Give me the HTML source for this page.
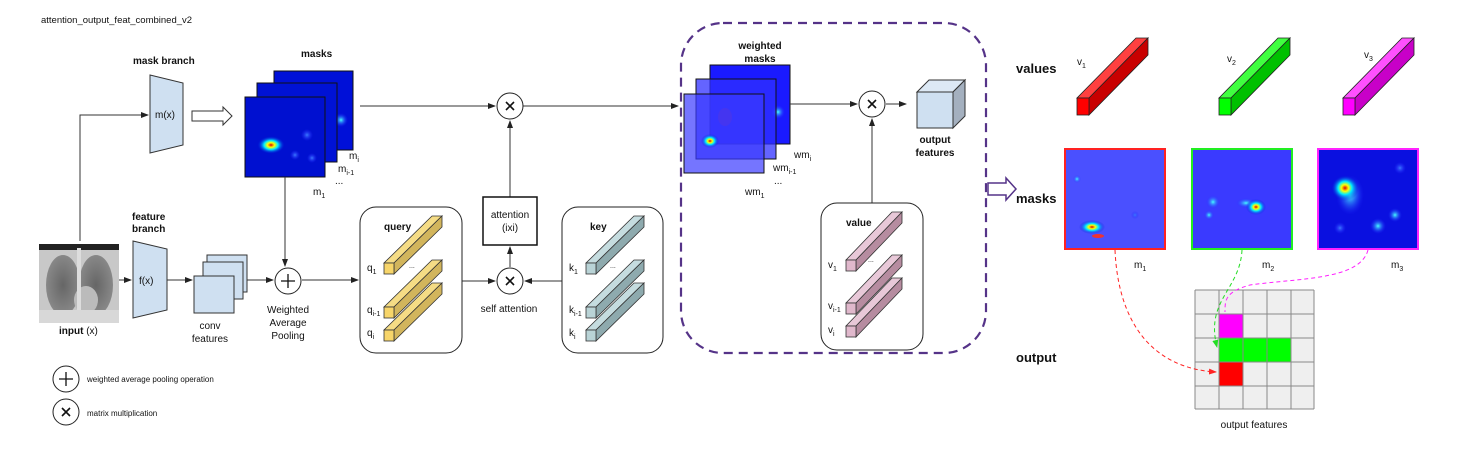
<!DOCTYPE html>
<html><head><meta charset="utf-8"><style>
html,body{margin:0;padding:0;background:#fff;}
svg{display:block;font-family:"Liberation Sans",Arial,sans-serif;}
.t{font-size:10px;fill:#111;}
.b{font-size:10px;font-weight:bold;fill:#111;}
.big{font-size:13px;font-weight:bold;fill:#111;}
.s{font-size:7px;fill:#111;}
.x{stroke:#111;stroke-width:1.6;fill:none;}
</style></head><body>
<svg width="1459" height="450" viewBox="0 0 1459 450">
<defs>
<marker id="ar" markerWidth="8" markerHeight="8" refX="7" refY="4" orient="auto" markerUnits="userSpaceOnUse"><path d="M0,1 L8,4 L0,7 z" fill="#222"/></marker>
<marker id="arR" markerWidth="8" markerHeight="8" refX="7" refY="4" orient="auto" markerUnits="userSpaceOnUse"><path d="M0,1 L8,4 L0,7 z" fill="#f22"/></marker>
<marker id="arG" markerWidth="8" markerHeight="8" refX="7" refY="4" orient="auto" markerUnits="userSpaceOnUse"><path d="M0,1 L8,4 L0,7 z" fill="#2d2"/></marker>
<radialGradient id="hot"><stop offset="0" stop-color="#d00"/><stop offset="0.25" stop-color="#ff0"/><stop offset="0.5" stop-color="#0ef"/><stop offset="1" stop-color="#0000d8" stop-opacity="0"/></radialGradient>
<radialGradient id="cy"><stop offset="0" stop-color="#4ff"/><stop offset="1" stop-color="#22f" stop-opacity="0"/></radialGradient>
<radialGradient id="lb"><stop offset="0" stop-color="#3a7aff"/><stop offset="1" stop-color="#22f" stop-opacity="0"/></radialGradient>
<radialGradient id="lung"><stop offset="0" stop-color="#666"/><stop offset="1" stop-color="#888"/></radialGradient>
</defs>

<text x="41" y="23" class="t" style="font-size:9.5px">attention_output_feat_combined_v2</text>

<!-- input image -->
<rect x="39" y="244" width="80" height="79" fill="#c8c8c8"/>
<rect x="39" y="244" width="80" height="6" fill="#222"/>
<ellipse cx="63" cy="285" rx="17" ry="30" fill="url(#lung)"/>
<ellipse cx="96" cy="285" rx="17" ry="30" fill="url(#lung)"/>
<ellipse cx="86" cy="300" rx="12" ry="14" fill="#bbb"/>
<rect x="39" y="310" width="80" height="13" fill="#d8d8d8"/>
<rect x="77" y="248" width="4" height="62" fill="#ddd"/>
<text x="59" y="334" class="b">input <tspan font-weight="normal">(x)</tspan></text>

<!-- branches -->
<path d="M80,241 V115 H148" fill="none" stroke="#333" stroke-width="1" marker-end="url(#ar)"/>
<polygon points="150,75 183,83 183,145 150,153" fill="#cfe0f1" stroke="#333"/>
<text x="155" y="118" class="t">m(x)</text>
<text x="133" y="64" class="b">mask branch</text>
<polygon points="192,111 223,111 223,107 232,116 223,125 223,121 192,121" fill="#fff" stroke="#333"/>

<text x="301" y="57" class="b">masks</text>
<rect x="274" y="71" width="79" height="79" fill="#0010d8" stroke="#111"/>
<circle cx="341" cy="120" r="7" fill="url(#cy)"/>
<rect x="257" y="83" width="80" height="79" fill="#0012d5" stroke="#111"/>
<rect x="245" y="97" width="80" height="80" fill="#0010d0" stroke="#111"/>
<ellipse cx="271" cy="145" rx="14" ry="9" fill="url(#hot)"/>
<circle cx="307" cy="135" r="6" fill="url(#lb)"/>
<circle cx="295" cy="155" r="5" fill="url(#lb)"/>
<circle cx="312" cy="158" r="5" fill="url(#lb)"/>
<text x="349" y="159" class="t">m<tspan class="s" dy="3">i</tspan></text>
<text x="338" y="172" class="t">m<tspan class="s" dy="3">i-1</tspan></text>
<text x="335" y="184" class="t">...</text>
<text x="313" y="195" class="t">m<tspan class="s" dy="3">1</tspan></text>

<text x="132" y="220" class="b">feature</text>
<text x="132" y="232" class="b">branch</text>
<line x1="119" y1="280" x2="131" y2="280" stroke="#333" marker-end="url(#ar)"/>
<polygon points="133,241 167,249 167,310 133,318" fill="#cfe0f1" stroke="#333"/>
<text x="139" y="284" class="t">f(x)</text>
<line x1="167" y1="280" x2="192" y2="280" stroke="#333" marker-end="url(#ar)"/>
<rect x="207" y="255" width="40" height="37" fill="#cfe0f1" stroke="#333"/>
<rect x="203" y="262" width="40" height="37" fill="#cfe0f1" stroke="#333"/>
<rect x="194" y="276" width="40" height="37" fill="#cfe0f1" stroke="#333"/>
<text x="210" y="329" class="t" text-anchor="middle">conv</text>
<text x="210" y="342" class="t" text-anchor="middle">features</text>
<line x1="247" y1="280" x2="273" y2="280" stroke="#333" marker-end="url(#ar)"/>
<line x1="285" y1="177" x2="285" y2="266" stroke="#333" marker-end="url(#ar)"/>
<circle cx="288" cy="281" r="13" fill="#fff" stroke="#222"/>
<path d="M281,281 H295 M288,274 V288" stroke="#111" stroke-width="1.3"/>
<text x="288" y="313" class="t" text-anchor="middle">Weighted</text>
<text x="288" y="326" class="t" text-anchor="middle">Average</text>
<text x="288" y="339" class="t" text-anchor="middle">Pooling</text>
<line x1="302" y1="280" x2="358" y2="280" stroke="#333" marker-end="url(#ar)"/>

<!-- legend -->
<circle cx="66" cy="379" r="13" fill="#fff" stroke="#222"/>
<path d="M59,379 H73 M66,372 V386" stroke="#111" stroke-width="1.3"/>
<text x="87" y="382" class="t" style="font-size:8px">weighted average pooling operation</text>
<circle cx="66" cy="412" r="13" fill="#fff" stroke="#222"/>
<path class="x" d="M62,408 L70,416 M70,408 L62,416"/>
<text x="87" y="416" class="t" style="font-size:8px">matrix multiplication</text>

<!-- top line & mult -->
<line x1="360" y1="106" x2="495" y2="106" stroke="#333" marker-end="url(#ar)"/>
<line x1="523" y1="106" x2="678" y2="106" stroke="#333" marker-end="url(#ar)"/>
<circle cx="510" cy="106" r="13" fill="#fff" stroke="#222"/>
<path class="x" d="M506,102 L514,110 M514,102 L506,110"/>
<line x1="510" y1="197" x2="510" y2="121" stroke="#333" marker-end="url(#ar)"/>
<rect x="483" y="197" width="54" height="48" fill="#fff" stroke="#111" stroke-width="1.5"/>
<text x="510" y="218" class="t" text-anchor="middle">attention</text>
<text x="510" y="231" class="t" text-anchor="middle">(ixi)</text>
<line x1="510" y1="267" x2="510" y2="247" stroke="#333" marker-end="url(#ar)"/>
<circle cx="510" cy="281" r="13" fill="#fff" stroke="#222"/>
<path class="x" d="M506,277 L514,285 M514,277 L506,285"/>
<text x="509" y="312" class="t" text-anchor="middle">self attention</text>
<line x1="462" y1="281" x2="495" y2="281" stroke="#333" marker-end="url(#ar)"/>
<line x1="562" y1="281" x2="525" y2="281" stroke="#333" marker-end="url(#ar)"/>

<!-- query box -->
<rect x="360" y="207" width="102" height="146" rx="16" fill="#fff" stroke="#222"/>
<text x="384" y="230" class="b">query</text>
<g fill="#f7d56a" stroke="#333" stroke-width="0.8">
<g transform="translate(384,263)"><polygon points="0,0 10,0 58,-47 48,-47" fill="#f5dc85"/><polygon points="10,0 58,-47 58,-36 10,11" fill="#d2b55c"/><rect width="10" height="11"/></g>
<g transform="translate(384,307)"><polygon points="0,0 10,0 58,-47 48,-47" fill="#f5dc85"/><polygon points="10,0 58,-47 58,-36 10,11" fill="#d2b55c"/><rect width="10" height="11"/></g>
<g transform="translate(384,330)"><polygon points="0,0 10,0 58,-47 48,-47" fill="#f5dc85"/><polygon points="10,0 58,-47 58,-36 10,11" fill="#d2b55c"/><rect width="10" height="11"/></g>
</g>
<text x="409" y="268" class="s">...</text>
<text x="367" y="271" class="t">q<tspan class="s" dy="3">1</tspan></text>
<text x="367" y="313" class="t">q<tspan class="s" dy="3">i-1</tspan></text>
<text x="367" y="336" class="t">q<tspan class="s" dy="3">i</tspan></text>

<!-- key box -->
<rect x="562" y="207" width="101" height="146" rx="16" fill="#fff" stroke="#222"/>
<text x="590" y="230" class="b">key</text>
<g fill="#b9d3d6" stroke="#333" stroke-width="0.8">
<g transform="translate(586,263)"><polygon points="0,0 10,0 58,-47 48,-47" fill="#c5dcdf"/><polygon points="10,0 58,-47 58,-36 10,11" fill="#8eaaae"/><rect width="10" height="11"/></g>
<g transform="translate(586,307)"><polygon points="0,0 10,0 58,-47 48,-47" fill="#c5dcdf"/><polygon points="10,0 58,-47 58,-36 10,11" fill="#8eaaae"/><rect width="10" height="11"/></g>
<g transform="translate(586,330)"><polygon points="0,0 10,0 58,-47 48,-47" fill="#c5dcdf"/><polygon points="10,0 58,-47 58,-36 10,11" fill="#8eaaae"/><rect width="10" height="11"/></g>
</g>
<text x="610" y="268" class="s">...</text>
<text x="569" y="271" class="t">k<tspan class="s" dy="3">1</tspan></text>
<text x="569" y="313" class="t">k<tspan class="s" dy="3">i-1</tspan></text>
<text x="569" y="336" class="t">k<tspan class="s" dy="3">i</tspan></text>

<!-- dashed box -->
<rect x="681" y="23" width="305" height="330" rx="42" fill="none" stroke="#553388" stroke-width="2.2" stroke-dasharray="9,6"/>
<text x="760" y="49" class="b" text-anchor="middle">weighted</text>
<text x="760" y="62" class="b" text-anchor="middle">masks</text>
<rect x="710" y="65" width="80" height="79" fill="#1a1aff" stroke="#111"/>
<circle cx="778" cy="112" r="7" fill="url(#cy)"/>
<rect x="696" y="79" width="80" height="80" fill="#3030ff" fill-opacity="0.75" stroke="#111"/>
<ellipse cx="725" cy="117" rx="7" ry="9" fill="#8a2a9a" opacity="0.5"/>
<rect x="684" y="94" width="80" height="79" fill="#3a3aff" fill-opacity="0.7" stroke="#111"/>
<ellipse cx="710" cy="141" rx="9" ry="7" fill="url(#hot)"/>
<text x="794" y="158" class="t">wm<tspan class="s" dy="3">i</tspan></text>
<text x="773" y="171" class="t">wm<tspan class="s" dy="3">i-1</tspan></text>
<text x="774" y="184" class="t">...</text>
<text x="745" y="195" class="t">wm<tspan class="s" dy="3">1</tspan></text>
<line x1="790" y1="104" x2="857" y2="104" stroke="#333" marker-end="url(#ar)"/>
<circle cx="872" cy="104" r="13" fill="#fff" stroke="#222"/>
<path class="x" d="M868,100 L876,108 M876,100 L868,108"/>
<line x1="886" y1="104" x2="906" y2="104" stroke="#333" marker-end="url(#ar)"/>
<line x1="872" y1="203" x2="872" y2="119" stroke="#333" marker-end="url(#ar)"/>
<polygon points="917,92 929,80 965,80 953,92" fill="#dde9f5" stroke="#333"/>
<polygon points="953,92 965,80 965,116 953,128" fill="#a4b0bf" stroke="#333"/>
<rect x="917" y="92" width="36" height="36" fill="#cfe0f1" stroke="#333"/>
<text x="935" y="143" class="b" text-anchor="middle">output</text>
<text x="935" y="156" class="b" text-anchor="middle">features</text>

<rect x="821" y="203" width="102" height="147" rx="16" fill="#fff" stroke="#222"/>
<text x="846" y="226" class="b">value</text>
<g fill="#e0b8cc" stroke="#333" stroke-width="0.8">
<g transform="translate(846,260)"><polygon points="0,0 10,0 56,-48 46,-48" fill="#e8c8d8"/><polygon points="10,0 56,-48 56,-37 10,11" fill="#b68ca0"/><rect width="10" height="11"/></g>
<g transform="translate(846,303)"><polygon points="0,0 10,0 56,-48 46,-48" fill="#e8c8d8"/><polygon points="10,0 56,-48 56,-37 10,11" fill="#b68ca0"/><rect width="10" height="11"/></g>
<g transform="translate(846,326)"><polygon points="0,0 10,0 56,-48 46,-48" fill="#e8c8d8"/><polygon points="10,0 56,-48 56,-37 10,11" fill="#b68ca0"/><rect width="10" height="11"/></g>
</g>
<text x="868" y="262" class="s">...</text>
<text x="828" y="268" class="t">v<tspan class="s" dy="3">1</tspan></text>
<text x="828" y="309" class="t">v<tspan class="s" dy="3">i-1</tspan></text>
<text x="828" y="333" class="t">v<tspan class="s" dy="3">i</tspan></text>

<!-- right side -->
<polygon points="988,183 1006,183 1006,178 1016,189 1006,200 1006,195 988,195" fill="#fff" stroke="#553388" stroke-width="1.5"/>
<text x="1016" y="73" class="big">values</text>
<text x="1016" y="203" class="big">masks</text>
<text x="1016" y="362" class="big">output</text>

<text x="1077" y="65" class="t">v<tspan class="s" dy="3">1</tspan></text>
<text x="1227" y="62" class="t">v<tspan class="s" dy="3">2</tspan></text>
<text x="1364" y="58" class="t">v<tspan class="s" dy="3">3</tspan></text>
<g stroke="#222" stroke-width="0.8">
<g transform="translate(1077,98)"><polygon points="0,0 12,0 71,-60 59,-60" fill="#ff4040"/><polygon points="12,0 71,-60 71,-43 12,17" fill="#c80000"/><rect width="12" height="17" fill="#f00"/></g>
<g transform="translate(1219,98)"><polygon points="0,0 12,0 71,-60 59,-60" fill="#40ff40"/><polygon points="12,0 71,-60 71,-43 12,17" fill="#00c000"/><rect width="12" height="17" fill="#0f0"/></g>
<g transform="translate(1343,98)"><polygon points="0,0 12,0 71,-60 59,-60" fill="#ff50ff"/><polygon points="12,0 71,-60 71,-43 12,17" fill="#c800c8"/><rect width="12" height="17" fill="#f0f"/></g>
</g>

<rect x="1065" y="149" width="100" height="100" fill="#4a50ff" stroke="#f22" stroke-width="2"/>
<circle cx="1077" cy="179" r="4" fill="url(#cy)"/>
<circle cx="1135" cy="215" r="4" fill="url(#lb)"/>
<ellipse cx="1092" cy="227" rx="13" ry="7" fill="url(#hot)"/>
<ellipse cx="1098" cy="236" rx="6" ry="2" fill="#e33"/>
<rect x="1192" y="149" width="100" height="100" fill="#3a3aff" stroke="#2e2" stroke-width="2"/>
<circle cx="1213" cy="202" r="7" fill="url(#cy)"/>
<circle cx="1209" cy="215" r="5" fill="url(#cy)"/>
<ellipse cx="1246" cy="203" rx="10" ry="5" fill="url(#cy)"/>
<ellipse cx="1256" cy="207" rx="10" ry="8" fill="url(#hot)"/>
<rect x="1318" y="149" width="100" height="100" fill="#0a10e0" stroke="#f2f" stroke-width="2"/>
<ellipse cx="1350" cy="195" rx="14" ry="20" fill="url(#cy)"/>
<ellipse cx="1345" cy="188" rx="14" ry="13" fill="url(#hot)"/>
<circle cx="1378" cy="226" r="8" fill="url(#cy)"/>
<circle cx="1395" cy="215" r="7" fill="url(#cy)"/>
<circle cx="1400" cy="168" r="6" fill="url(#lb)"/>
<circle cx="1340" cy="228" r="6" fill="url(#lb)"/>
<text x="1134" y="268" class="t">m<tspan class="s" dy="3">1</tspan></text>
<text x="1262" y="268" class="t">m<tspan class="s" dy="3">2</tspan></text>
<text x="1391" y="268" class="t">m<tspan class="s" dy="3">3</tspan></text>

<!-- grid -->
<rect x="1195" y="290" width="119" height="119" fill="#efefef"/>
<rect x="1219" y="314" width="24" height="24" fill="#f0f"/>
<rect x="1219" y="338" width="72" height="24" fill="#0f0"/>
<rect x="1219" y="362" width="24" height="24" fill="#f00"/>
<g stroke="#888" stroke-width="1">
<path d="M1195,290 V409 M1219,290 V409 M1243,290 V409 M1267,290 V409 M1291,290 V409 M1314,290 V409 M1195,290 H1314 M1195,314 H1314 M1195,338 H1314 M1195,362 H1314 M1195,386 H1314 M1195,409 H1314"/>
</g>
<text x="1254" y="428" class="t" text-anchor="middle">output features</text>
<path d="M1115,250 C1118,320 1150,368 1216,372" fill="none" stroke="#f22" stroke-dasharray="4,3" marker-end="url(#arR)"/>
<path d="M1242,250 C1240,290 1205,300 1217,347" fill="none" stroke="#2d2" stroke-dasharray="4,3" marker-end="url(#arG)"/>
<path d="M1368,250 C1360,280 1300,278 1250,285 C1225,292 1225,300 1225,312" fill="none" stroke="#f2f" stroke-dasharray="4,3"/>
</svg>
</body></html>
